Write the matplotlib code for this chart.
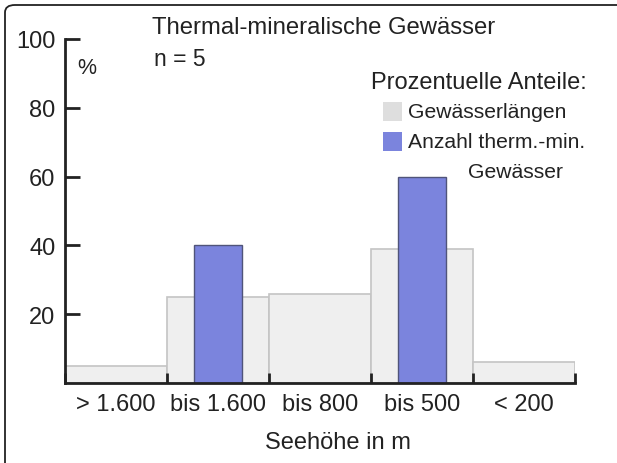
import matplotlib.pyplot as plt
from matplotlib.patches import FancyBboxPatch, Rectangle

plt.rcParams['font.family'] = ['Liberation Sans', 'DejaVu Sans']

# Data
categories = ['> 1.600', 'bis 1.600', 'bis 800', 'bis 500', '< 200']
laengen = [5, 25, 26, 39, 6]          # Gewässerlängen in %
anzahl = [0, 40, 0, 60, 0]            # Anzahl therm.-min. Gewässer in %
yticks = [20, 40, 60, 80, 100]

gray = '#efefef'
gray_edge = '#c4c4c4'
blue = '#7b84dd'
blue_edge = '#50547a'
ink = '#222222'

W, H = 617, 464
fig = plt.figure(figsize=(W / 100, H / 100), dpi=100)

def fx(px):
    return px / W

def fy(py):
    return 1 - py / H

# rounded frame (only top/left visible, rest runs off the picture)
fig.patches.append(FancyBboxPatch((fx(5), fy(H + 20)), fx(W + 30), (H + 14) / H,
                                  boxstyle='round,pad=0,rounding_size=0.016',
                                  transform=fig.transFigure, facecolor='none',
                                  edgecolor=ink, lw=1.3, clip_on=False))

ax = fig.add_axes([fx(65), fy(384), fx(575 - 65), (384 - 40) / H])
x = list(range(len(categories)))
ax.bar(x, laengen, width=1.0, color=gray, edgecolor=gray_edge, lw=1.2, zorder=1)
xs = [i for i, v in zip(x, anzahl) if v > 0]
vs = [v for v in anzahl if v > 0]
ax.bar(xs, vs, width=0.47, color=blue, edgecolor=blue_edge, lw=1.0, zorder=2)

ax.set_xlim(-0.5, len(categories) - 0.5)
ax.set_ylim(0, 100)
ax.set_yticks(yticks)
ax.set_xticks([i + 0.5 for i in range(-1, len(categories))], minor=False)
ax.set_xticklabels([])
ax.set_xticks(x, minor=True)
ax.set_xticklabels(categories, minor=True, fontsize=17, color=ink)
ax.tick_params(axis='x', which='minor', length=0, pad=7)
ax.tick_params(axis='x', which='major', direction='in', length=7, width=2, color=ink)
ax.tick_params(axis='y', direction='in', length=11, width=2, color=ink,
               labelsize=17, labelcolor=ink, pad=7)
for s in ['top', 'right']:
    ax.spines[s].set_visible(False)
for s in ['left', 'bottom']:
    ax.spines[s].set_linewidth(2)
    ax.spines[s].set_color(ink)
ax.patch.set_alpha(0)

fig.text(fx(152), fy(28), 'Thermal-mineralische Gewässer', fontsize=17.2, color=ink, va='center')
fig.text(fx(154), fy(60), 'n = 5', fontsize=16.5, color=ink, va='center')
fig.text(fx(77), fy(68), '%', fontsize=15.5, color=ink, va='center')
fig.text(fx(371), fy(83), 'Prozentuelle Anteile:', fontsize=17, color=ink, va='center')
fig.patches.append(Rectangle((fx(383), fy(122)), fx(19), 19 / H, transform=fig.transFigure,
                             facecolor='#dedede', edgecolor='none'))
fig.patches.append(Rectangle((fx(383), fy(152)), fx(19), 19 / H, transform=fig.transFigure,
                             facecolor=blue, edgecolor='none'))
fig.text(fx(408), fy(113), 'Gewässerlängen', fontsize=15.2, color=ink, va='center')
fig.text(fx(408), fy(143), 'Anzahl therm.-min.', fontsize=15.2, color=ink, va='center')
fig.text(fx(468), fy(172), 'Gewässer', fontsize=15.2, color=ink, va='center')
fig.text(fx(338), fy(443), 'Seehöhe in m', fontsize=17, color=ink, va='center', ha='center')

fig.savefig('out.png', dpi=100)
